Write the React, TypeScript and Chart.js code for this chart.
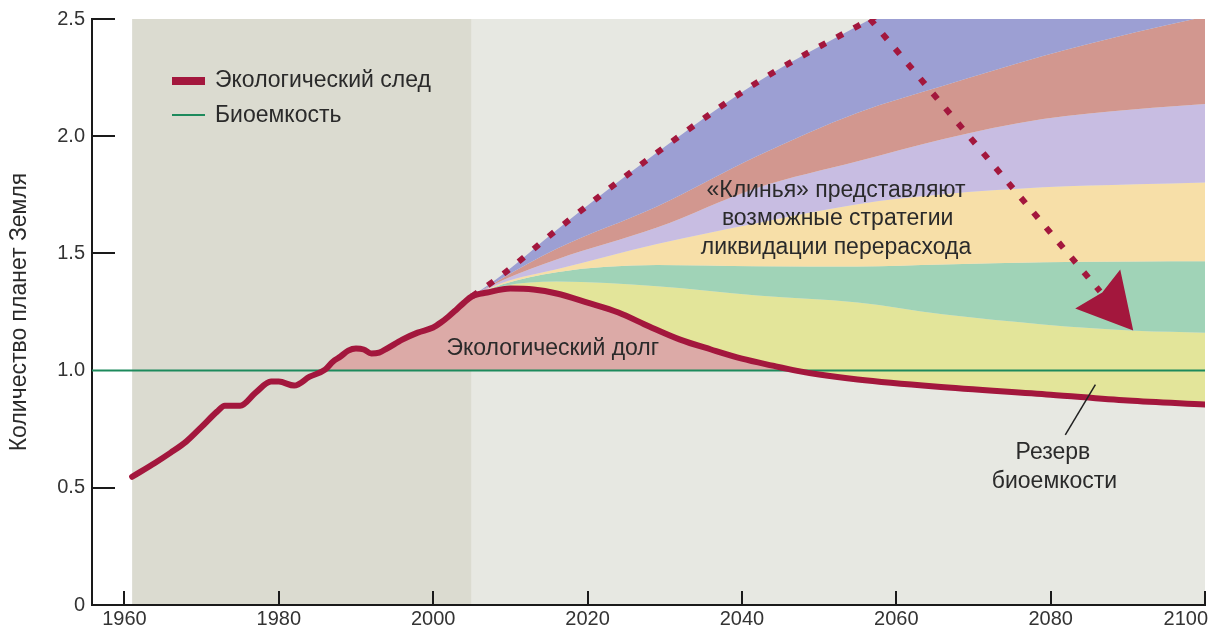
import React, { useEffect, useRef } from 'react';
import { Chart, registerables } from 'chart.js';

Chart.register(...registerables);

const FONT = '"Liberation Sans", Arimo, Arial, sans-serif';

// Axes
const xRange = [1955.8, 2100];
const yRange = [0, 2.5];
const xTickYears = [1960, 1980, 2000, 2020, 2040, 2060, 2080, 2100];
const yTickValues = [0, 0.5, 1, 1.5, 2, 2.5];
const historyBand = [1961, 2005];

// Ecological footprint (number of planets)
const footprintYears = [1961, 1964, 1966, 1968, 1970, 1972, 1973, 1975, 1977, 1979, 1980, 1982, 1984, 1986, 1987, 1988, 1989, 1990, 1991, 1992, 1993, 1994, 1996, 1998, 2000, 2001, 2002, 2003, 2004, 2005, 2007, 2010, 2013, 2016, 2020, 2024, 2028, 2032, 2036, 2040, 2044, 2047, 2050, 2055, 2065, 2080, 2090, 2100];
const footprintValues = [0.547, 0.607, 0.65, 0.697, 0.76, 0.825, 0.85, 0.85, 0.906, 0.953, 0.953, 0.936, 0.974, 1.004, 1.038, 1.06, 1.085, 1.094, 1.09, 1.073, 1.077, 1.094, 1.132, 1.162, 1.184, 1.205, 1.231, 1.26, 1.29, 1.316, 1.333, 1.35, 1.346, 1.329, 1.29, 1.248, 1.188, 1.132, 1.09, 1.051, 1.021, 1.0, 0.983, 0.962, 0.932, 0.897, 0.872, 0.855];

// Biocapacity
const biocapacityYears = [1950, 2100];
const biocapacityValues = [1, 1];

// Wedges (boundaries, top to bottom)
const wedgeYears = [2005, 2009, 2016, 2029, 2042, 2055, 2066, 2079, 2091, 2100];
const bauTop = [1.316, 1.41, 1.6, 1.93, 2.23, 2.47, 2.66, 2.88, 3.05, 3.18];
const wedge1 = [1.316, 1.395, 1.52, 1.7, 1.915, 2.1, 2.214, 2.342, 2.444, 2.51];
const wedge2 = [1.316, 1.385, 1.474, 1.61, 1.78, 1.893, 1.987, 2.073, 2.115, 2.137];
const wedge3 = [1.316, 1.375, 1.432, 1.54, 1.63, 1.71, 1.752, 1.782, 1.795, 1.803];
const wedge4 = [1.316, 1.368, 1.42, 1.45, 1.445, 1.444, 1.453, 1.462, 1.465, 1.466];
const wedge5 = [1.316, 1.36, 1.38, 1.36, 1.32, 1.29, 1.24, 1.197, 1.17, 1.162];

// Arrow (dotted) from BAU peak to the wedges
const arrowYears = [2056.6, 2086.4];
const arrowValues = [2.5, 1.338];
const arrowTip = [2090.7, 1.171];

// Leader line for "Резерв биоемкости"
const leaderYears = [2081.9, 2085.8];
const leaderValues = [0.726, 0.94];

// Text labels
const noteTexts = ['Экологический долг', '«Клинья» представляют', 'возможные стратегии', 'ликвидации перерасхода', 'Резерв', 'биоемкости'];
const noteYears = [2015.5, 2052.2, 2052.4, 2052.2, 2080.3, 2080.5];
const noteValues = [1.095, 1.767, 1.648, 1.525, 0.652, 0.528];

const legendLabels = ['Экологический след', 'Биоемкость'];
const yTitle = 'Количество планет Земля';

const C = {
  footprint: '#a3173d',
  bio: '#1d8a5c',
  debt: '#dcaaa7',
  blue: '#9c9fd3',
  red: '#d2978f',
  lavender: '#c8bde2',
  orange: '#f7dfa8',
  green: '#a0d3b7',
  yellow: '#e3e59a',
  history: '#dbdbd0',
  future: '#e7e8e2',
  axis: '#1a1a1a',
  text: '#2a2a2a',
};

const pts = (xs: number[], ys: number[]) => xs.map((x, i) => ({ x, y: ys[i] }));

export default function App() {
  const ref = useRef<HTMLCanvasElement>(null);

  useEffect(() => {
    document.body.style.margin = '0';
    const canvas = ref.current!;

    const decor = {
      id: 'decor',
      beforeDraw(chart: any) {
        const { ctx, chartArea: a, scales } = chart;
        const x = scales.x;
        ctx.save();
        ctx.fillStyle = '#ffffff';
        ctx.fillRect(0, 0, chart.width, chart.height);
        const h0 = x.getPixelForValue(historyBand[0]);
        const h1 = x.getPixelForValue(historyBand[1]);
        ctx.fillStyle = C.history;
        ctx.fillRect(h0, a.top, h1 - h0, a.bottom - a.top);
        ctx.fillStyle = C.future;
        ctx.fillRect(h1, a.top, a.right - h1, a.bottom - a.top);
        ctx.restore();
      },
      afterDatasetsDraw(chart: any) {
        const { ctx, chartArea: a, scales } = chart;
        const x = scales.x, y = scales.y;
        ctx.save();
        // arrow head
        const tx = x.getPixelForValue(arrowTip[0]);
        const ty = y.getPixelForValue(arrowTip[1]);
        ctx.fillStyle = C.footprint;
        ctx.beginPath();
        ctx.moveTo(tx, ty);
        ctx.lineTo(tx - 13, ty - 61);
        ctx.lineTo(tx - 31, ty - 38);
        ctx.lineTo(tx - 58, ty - 22);
        ctx.closePath();
        ctx.fill();

        // notes
        ctx.fillStyle = C.text;
        ctx.font = `23px ${FONT}`;
        ctx.textAlign = 'center';
        ctx.textBaseline = 'middle';
        noteTexts.forEach((t, i) => {
          ctx.fillText(t, x.getPixelForValue(noteYears[i]), y.getPixelForValue(noteValues[i]));
        });

        // legend
        const lx = a.left + 80;
        ctx.fillStyle = C.footprint;
        ctx.fillRect(lx, a.top + 58, 33, 8);
        ctx.strokeStyle = C.bio;
        ctx.lineWidth = 2;
        ctx.beginPath();
        ctx.moveTo(lx, a.top + 96);
        ctx.lineTo(lx + 33, a.top + 96);
        ctx.stroke();
        ctx.fillStyle = C.text;
        ctx.textAlign = 'left';
        ctx.fillText(legendLabels[0], lx + 43, a.top + 62);
        ctx.fillText(legendLabels[1], lx + 43, a.top + 97);
        ctx.restore();
      },
      afterDraw(chart: any) {
        const { ctx, chartArea: a, scales } = chart;
        const x = scales.x, y = scales.y;
        ctx.save();
        ctx.strokeStyle = C.axis;
        ctx.lineWidth = 2;
        ctx.beginPath();
        yTickValues.forEach((v) => {
          if (v === 0 || v === 1) return;
          const py = Math.round(y.getPixelForValue(v));
          ctx.moveTo(a.left, py);
          ctx.lineTo(a.left + 23, py);
        });
        xTickYears.forEach((v) => {
          const px = Math.round(x.getPixelForValue(v));
          ctx.moveTo(px, a.bottom);
          ctx.lineTo(px, a.bottom - 14);
        });
        ctx.stroke();
        ctx.fillStyle = '#333';
        ctx.font = `20px ${FONT}`;
        ctx.textBaseline = 'top';
        xTickYears.forEach((v, i) => {
          const px = x.getPixelForValue(v);
          const last = i === xTickYears.length - 1;
          ctx.textAlign = last ? 'right' : 'center';
          ctx.fillText(String(v), last ? px + 3 : px, a.bottom + 4);
        });
        ctx.restore();
      },
    };

    const band = (data: number[], color: string, fill: any) => ({
      data: pts(wedgeYears, data),
      borderWidth: 0,
      borderColor: 'transparent',
      backgroundColor: color,
      pointRadius: 0,
      cubicInterpolationMode: 'monotone',
      fill,
      order: 5,
    });

    const chart = new Chart(canvas, {
      type: 'line',
      data: {
        datasets: [
          {
            ...band(bauTop, C.blue, '+1'),
            borderWidth: 6,
            borderColor: C.footprint,
            borderDash: [7, 12.5],
            borderCapStyle: 'butt',
            clip: 0,
            order: 0,
          },
          band(wedge1, C.red, '+1'),
          band(wedge2, C.lavender, '+1'),
          band(wedge3, C.orange, '+1'),
          band(wedge4, C.green, '+1'),
          band(wedge5, C.yellow, 6),
          {
            data: pts(footprintYears, footprintValues),
            borderColor: C.footprint,
            borderWidth: 6,
            pointRadius: 0,
            cubicInterpolationMode: 'monotone',
            borderJoinStyle: 'round',
            borderCapStyle: 'round',
            fill: { target: { value: 1 }, above: C.debt, below: 'transparent' },
            order: 1,
          },
          {
            data: pts(biocapacityYears, biocapacityValues),
            borderColor: C.bio,
            borderWidth: 2,
            pointRadius: 0,
            fill: false,
            clip: 0,
            order: 2,
          },
          {
            data: pts(arrowYears, arrowValues),
            borderColor: C.footprint,
            borderWidth: 6,
            borderDash: [7, 12.5],
            pointRadius: 0,
            tension: 0,
            fill: false,
            order: 0,
          },
          {
            data: pts(leaderYears, leaderValues),
            borderColor: '#222',
            borderWidth: 1.5,
            pointRadius: 0,
            fill: false,
            order: 0,
          },
        ] as any,
      },
      options: {
        responsive: false,
        animation: false,
        events: [],
        layout: { padding: { left: 0, top: 18, right: 9, bottom: 0 } },
        plugins: {
          legend: { display: false },
          tooltip: { enabled: false },
          filler: { drawTime: 'beforeDatasetsDraw' },
        } as any,
        scales: {
          x: {
            type: 'linear',
            min: xRange[0],
            max: xRange[1],
            grid: { display: false, drawTicks: false },
            border: { display: true, color: C.axis, width: 2 },
            ticks: { display: false },
            afterBuildTicks: (s: any) => { s.ticks = xTickYears.map((v) => ({ value: v })); },
            afterFit: (s: any) => { s.height = 29; },
          },
          y: {
            type: 'linear',
            min: yRange[0],
            max: yRange[1],
            grid: { display: false, drawTicks: false },
            border: { display: true, color: C.axis, width: 2 },
            ticks: {
              color: '#333',
              font: { family: FONT, size: 20 },
              padding: 7,
              callback: (v: any) => (v === 0 ? '0' : Number(v).toFixed(1)),
            },
            title: {
              display: true,
              text: yTitle,
              color: C.text,
              font: { family: FONT, size: 23 },
              padding: { top: 6, bottom: 0 },
            },
            afterBuildTicks: (s: any) => { s.ticks = yTickValues.map((v) => ({ value: v })); },
            afterFit: (s: any) => { s.width = 92; },
          },
        } as any,
      },
      plugins: [decor],
    });

    return () => chart.destroy();
  }, []);

  return (
    <div style={{ width: 1214, height: 634 }}>
      <canvas ref={ref} width={1214} height={634} />
    </div>
  );
}
